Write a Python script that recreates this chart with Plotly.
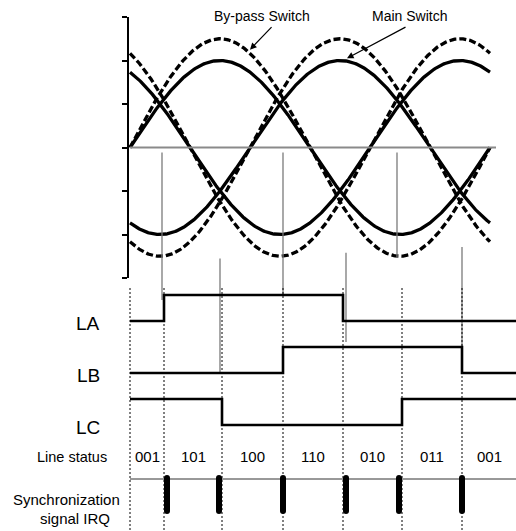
import numpy as np
import plotly.graph_objects as go

# ---------------- data ----------------
phases_deg = [0, 120, -120]          # three-phase offsets
main_amplitude = 2.0                 # solid curves (Main Switch)
bypass_amplitude = 2.5               # dashed curves (By-pass Switch)
angle_start, angle_end = 0, 360

y_ticks = [-3, -2, -1, 0, 1, 2, 3]

edges_deg = [0, 34, 92, 153, 213, 272, 332, 386]   # switching instants
LA = [0, 1, 1, 1, 0, 0, 0]
LB = [0, 0, 0, 1, 1, 1, 0]
LC = [1, 1, 0, 0, 0, 1, 1]
signal_names = ["LA", "LB", "LC"]
status_labels = ["001", "101", "100", "110", "010", "011", "001"]
irq_deg = [37, 89, 153, 216, 269, 332]
connector_deg = [32, 90, 153, 216, 267, 332]

# ---------------- layout constants ----------------
W, H = 516, 531
X0_PX = 130                       # pixel of 0 degrees
TOP_PX, BOT_PX = 17, 278          # y axis -3 .. 3
LA_BASE_PX, ROW_PX = 321, 26      # timing rows

def v_to_px(v):
    return TOP_PX + (3 - v) / 6 * (BOT_PX - TOP_PX)

def px_to_r(px):
    return (LA_BASE_PX - px) / ROW_PX

fig = go.Figure()

theta = np.linspace(angle_start, angle_end, 361)
for amp, dash in [(bypass_amplitude, "7px,3px"), (main_amplitude, "solid")]:
    for ph in phases_deg:
        fig.add_trace(go.Scatter(
            x=theta, y=amp * np.sin(np.radians(theta + ph)),
            mode="lines", line=dict(color="black", width=3.3, dash=dash),
            hoverinfo="skip", xaxis="x", yaxis="y"))

# zero line
fig.add_trace(go.Scatter(x=[0, 366], y=[0, 0], mode="lines",
                         line=dict(color="#8a8a8a", width=2),
                         hoverinfo="skip", xaxis="x", yaxis="y"))

# connector lines (gray) in timing-row units
conn_start = [0, -2.55, 0, -2.42, 0, -2.29]
conn_end_px = [300, 373, 295, 342, 258, 350]
cx, cy = [], []
for d, s, e in zip(connector_deg, conn_start, conn_end_px):
    cx += [d, d, None]
    cy += [px_to_r(v_to_px(s) + 5 if s == 0 else v_to_px(s)), px_to_r(e), None]
fig.add_trace(go.Scatter(x=cx, y=cy, mode="lines",
                         line=dict(color="#7a7a7a", width=1.3),
                         hoverinfo="skip", xaxis="x", yaxis="y2"))

# dotted guide lines
dx, dy = [], []
for d in edges_deg[:-1]:
    dx += [d, d, None]
    dy += [px_to_r(288), px_to_r(H), None]
fig.add_trace(go.Scatter(x=dx, y=dy, mode="lines",
                         line=dict(color="black", width=1, dash="2px,2px"),
                         hoverinfo="skip", xaxis="x", yaxis="y2"))

# timing signals
for i, sig in enumerate([LA, LB, LC]):
    base = -2 * i
    fig.add_trace(go.Scatter(
        x=edges_deg, y=[base + s for s in sig] + [base + sig[-1]],
        mode="lines", line=dict(color="black", width=2.6, shape="hv"),
        hoverinfo="skip", xaxis="x", yaxis="y2"))

# IRQ baseline
fig.add_trace(go.Scatter(x=[0, 386], y=[px_to_r(479)] * 2, mode="lines",
                         line=dict(color="#333333", width=1),
                         hoverinfo="skip", xaxis="x", yaxis="y2"))
# IRQ pulses
bx, by = [], []
for d in irq_deg:
    bx += [d, d, None]
    by += [px_to_r(478), px_to_r(511), None]
fig.add_trace(go.Scatter(x=bx, y=by, mode="lines+markers",
                         line=dict(color="black", width=6),
                         marker=dict(size=6, color="black"),
                         hoverinfo="skip", xaxis="x", yaxis="y2"))

annotations = []
FONT = "Liberation Sans, Arial, sans-serif"
# status labels
for j, lab in enumerate(status_labels):
    mid = (edges_deg[j] + edges_deg[j + 1]) / 2
    annotations.append(dict(x=mid, y=px_to_r(456), xref="x", yref="y2",
                            text=lab, showarrow=False,
                            font=dict(size=15, color="black", family=FONT)))
# left labels
for i, name in enumerate(signal_names):
    annotations.append(dict(x=88 - X0_PX, y=-2 * i - 0.08, xref="x", yref="y2",
                            text=name, showarrow=False,
                            font=dict(size=19, color="black", family=FONT)))
annotations.append(dict(x=72 - X0_PX, y=px_to_r(457), xref="x", yref="y2",
                        text="Line status", showarrow=False,
                        font=dict(size=14.5, color="black", family=FONT)))
annotations.append(dict(x=66 - X0_PX, y=px_to_r(499), xref="x", yref="y2",
                        text="Synchronization", showarrow=False,
                        font=dict(size=15, color="black", family=FONT)))
annotations.append(dict(x=75 - X0_PX, y=px_to_r(518), xref="x", yref="y2",
                        text="signal IRQ", showarrow=False,
                        font=dict(size=15, color="black", family=FONT)))
# curve labels with arrows
annotations.append(dict(x=262 - X0_PX, y=1 - 16 / H, xref="x", yref="paper",
                        yanchor="middle", xanchor="center",
                        text="By-pass Switch", showarrow=False,
                        font=dict(size=14, color="black", family=FONT)))
annotations.append(dict(x=409 - X0_PX, y=1 - 16 / H, xref="x", yref="paper",
                        yanchor="middle", xanchor="center",
                        text="Main Switch", showarrow=False,
                        font=dict(size=14, color="black", family=FONT)))
annotations.append(dict(x=120, y=2.25, xref="x", yref="y", text="",
                        showarrow=True, ax=23, ay=-24, arrowhead=2,
                        arrowsize=1.1, arrowwidth=1.2, arrowcolor="black"))
annotations.append(dict(x=217, y=2.05, xref="x", yref="y", text="",
                        showarrow=True, ax=60, ay=-32, arrowhead=2,
                        arrowsize=1.1, arrowwidth=1.2, arrowcolor="black"))

fig.update_layout(
    width=W, height=H, margin=dict(l=0, r=0, t=0, b=0),
    paper_bgcolor="white", plot_bgcolor="rgba(0,0,0,0)",
    showlegend=False, annotations=annotations,
    xaxis=dict(range=[-X0_PX, W - X0_PX], domain=[0, 1], visible=False,
               fixedrange=True),
    yaxis=dict(domain=[1 - BOT_PX / H, 1 - TOP_PX / H], range=[-3, 3],
               anchor="free", position=128 / W, showline=True,
               linecolor="black", linewidth=2, ticks="outside", ticklen=5,
               tickwidth=2, tickcolor="black", tickvals=y_ticks,
               showticklabels=False, showgrid=False, zeroline=False,
               automargin=False),
    yaxis2=dict(domain=[0, 1], range=[px_to_r(H), px_to_r(0)], visible=False,
                anchor="x"),
)

fig.write_html("out.html")
